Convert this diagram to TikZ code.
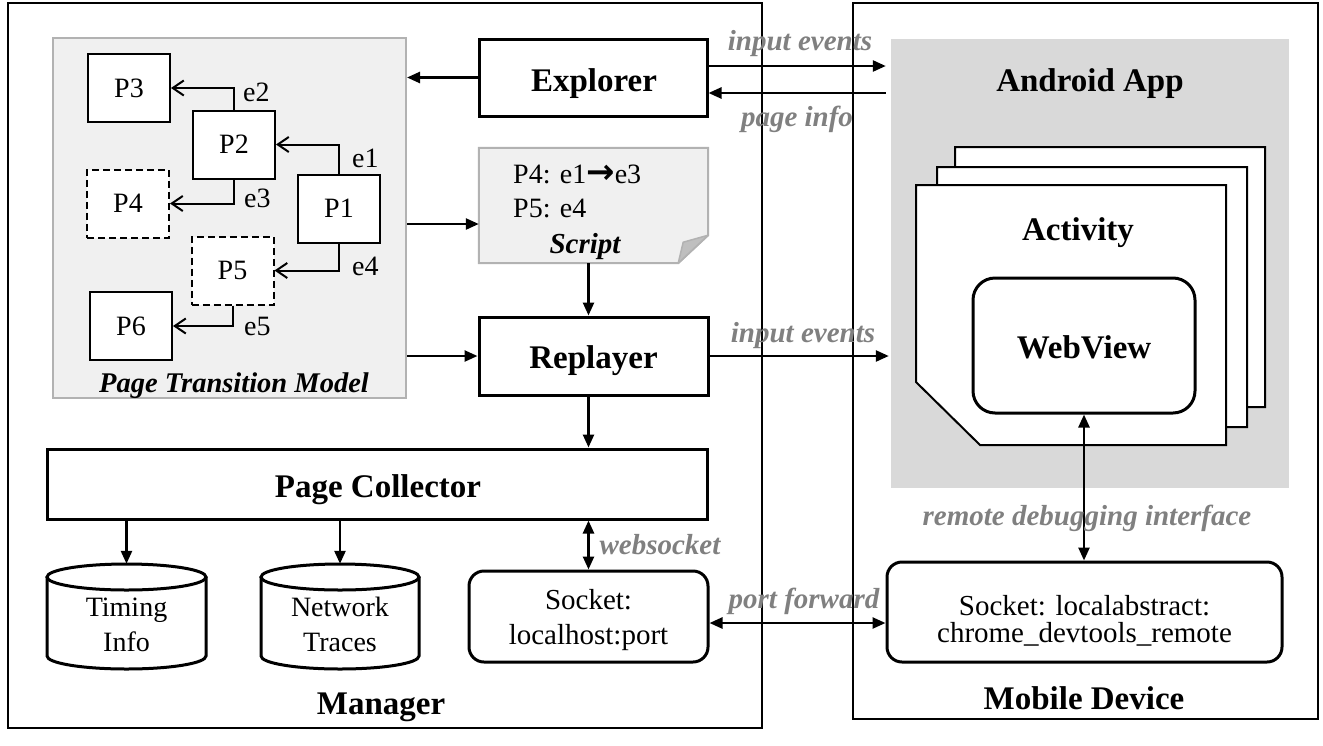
\documentclass[tikz,border=0pt]{standalone}
\usepackage{fontspec}
\setmainfont{Liberation Serif}
\newfontfamily\symfont{DejaVu Sans}
\usetikzlibrary{arrows.meta,calc}
\tikzset{
  arr/.style={line width=2.5pt, -{Triangle[length=13pt,width=11pt]}},
  darr/.style={line width=2.5pt, {Triangle[length=13pt,width=11pt]}-{Triangle[length=13pt,width=11pt]}},
  oarr/.style={line width=2pt, -{Straight Barb[length=11pt,width=15pt,line width=2pt]}},
  pbox/.style={draw, line width=2pt, fill=white, minimum width=82pt, minimum height=68pt, inner sep=0pt, font=\fontsize{28}{32}\selectfont},
  dbox/.style={pbox, dash pattern=on 7pt off 4pt},
  titletext/.style={font=\fontsize{33}{36}\selectfont\bfseries, inner sep=0pt, anchor=base},
  glab/.style={font=\fontsize{29}{32}\selectfont\bfseries\itshape, text=black!50, inner sep=0pt, anchor=base},
  elab/.style={font=\fontsize{28}{32}\selectfont, inner sep=0pt, anchor=base west},
  plain/.style={font=\fontsize{28}{35}\selectfont, inner sep=0pt, align=center},
  tbox/.style={draw, line width=3pt, fill=white, inner sep=0pt},
  rbox/.style={draw, line width=3pt, fill=white, inner sep=0pt, rounded corners=15pt},
  cardshape/.style={draw, line width=2pt, fill=white},
  cyl/.style={draw, line width=3pt, fill=white},
}
\begin{document}
\begin{tikzpicture}[x=1pt,y=-1pt]
\useasboundingbox (0,0) rectangle (1323,745);

% outer frames
\node[draw, line width=2pt, minimum width=754pt, minimum height=725pt, inner sep=0pt] (mgr) at (385,365.5) {};
\node[draw, line width=2pt, minimum width=465pt, minimum height=716pt, inner sep=0pt] (mob) at (1085.5,361) {};
\node[titletext] (mgrT) at (381,714) {Manager};
\node[titletext] (mobT) at (1084,709) {Mobile Device};

% Android App region
\node[fill=black!15, minimum width=398pt, minimum height=449pt, inner sep=0pt] (app) at (1090,263.5) {};
\node[titletext] (appT) at (1090,91) {Android App};

% activity cards
\draw[cardshape] (955,147) -- (1265,147) -- (1265,407) -- (1019,407) -- (955,344) -- cycle;
\draw[cardshape] (937,167) -- (1247,167) -- (1247,427) -- (1001,427) -- (937,364) -- cycle;
\draw[cardshape] (916,185) -- (1226,185) -- (1226,445) -- (980,445) -- (916,382) -- cycle;
\node[titletext] (actT) at (1078,240) {Activity};
\node[rbox, rounded corners=22pt, minimum width=222pt, minimum height=135pt] (wv) at (1084,345.5) {};
\node[titletext] (wvT) at (1084,358) {WebView};

% right socket
\node[rbox, minimum width=395pt, minimum height=100pt] (sockR) at (1084.5,612) {};
\node[font=\fontsize{29}{27}\selectfont, inner sep=0pt, align=center] (sockRT) at (1084.5,621) {Socket: localabstract:\\chrome\_devtools\_remote};

% page transition model
\node[draw=black!30, fill=black!6, line width=2pt, minimum width=353pt, minimum height=360pt, inner sep=0pt] (ptm) at (229.5,218) {};
\node[font=\fontsize{28.5}{30}\selectfont\bfseries\itshape, inner sep=0pt, anchor=base] (ptmT) at (234,392) {Page Transition Model};
\node[pbox] (P3) at (129,88) {P3};
\node[pbox] (P2) at (234,144.5) {P2};
\node[dbox] (P4) at (128,203.5) {P4};
\node[pbox] (P1) at (339,208.5) {P1};
\node[dbox] (P5) at (232.5,270.5) {P5};
\node[pbox] (P6) at (131,326) {P6};
\draw[oarr] (P2.north) |- (P3.east);
\draw[oarr] (P1.north) |- (P2.east);
\draw[oarr] (P2.south) |- (P4.east);
\draw[oarr] (P1.south) |- (P5.east);
\draw[oarr] (P5.south) |- (P6.east);
\node[elab] (l2) at (243,101) {e2};
\node[elab] (l1) at (352,167) {e1};
\node[elab] (l3) at (244,207) {e3};
\node[elab] (l4) at (352,275) {e4};
\node[elab] (l5) at (244,335) {e5};

% Explorer
\node[tbox, minimum width=228pt, minimum height=77pt] (ex) at (593,77.5) {};
\node[titletext] (exT) at (594,91) {Explorer};

% Script
\node[minimum width=229pt, minimum height=115pt, inner sep=0pt] (script) at (593.5,205.5) {};
\draw[draw=black!30, fill=black!6, line width=2pt] (script.north west) -- (script.north east) -- ($(script.south east)+(0,-28)$) -- ($(script.south east)+(-30,0)$) -- (script.south west) -- cycle;
\draw[draw=black!30, fill=black!25, line width=1.5pt, line join=round] ($(script.south east)+(-30,0)$) -- ($(script.south east)+(-25,-21)$) -- ($(script.south east)+(0,-28)$) -- cycle;
\node[font=\fontsize{28}{32}\selectfont, inner sep=0pt, anchor=base west] (s1) at (513,183) {P4: e1{\symfont\bfseries\fontsize{34}{34}\selectfont →}e3};
\node[font=\fontsize{28}{32}\selectfont, inner sep=0pt, anchor=base west] (s2) at (513,217) {P5: e4};
\node[font=\fontsize{29}{32}\selectfont\bfseries\itshape, inner sep=0pt, anchor=base] (s3) at (585,253) {Script};

% Replayer
\node[tbox, minimum width=229pt, minimum height=78pt] (rep) at (593.5,356) {};
\node[titletext] (repT) at (593.5,368) {Replayer};

% Page collector
\node[tbox, minimum width=660pt, minimum height=70pt] (pc) at (377,484) {};
\node[titletext] (pcT) at (378,497) {Page Collector};

% cylinders
\node[minimum width=159pt, minimum height=105pt, inner sep=0pt] (cylT) at (126.5,616.5) {};
\draw[cyl] (47,577) -- (47,656) arc[start angle=180, end angle=360, x radius=79.5pt, y radius=13pt] -- (206,577);
\draw[cyl] (126.5,577) ellipse[x radius=79.5pt, y radius=13pt];
\node[plain] (cylTt) at (126.5,625) {Timing\\Info};
\node[minimum width=158pt, minimum height=105pt, inner sep=0pt] (cylN) at (340,616.5) {};
\draw[cyl] (261,577) -- (261,656) arc[start angle=180, end angle=360, x radius=79pt, y radius=13pt] -- (419,577);
\draw[cyl] (340,577) ellipse[x radius=79pt, y radius=13pt];
\node[plain] (cylNt) at (340,624) {Network\\Traces};

% left socket
\node[rbox, minimum width=239pt, minimum height=91pt] (sockL) at (588.5,616.5) {};
\node[font=\fontsize{29}{35}\selectfont, inner sep=0pt, align=center] (sockLT) at (588.5,620.5) {Socket:\\localhost:port};

% helper coordinates
\coordinate (yIE) at (0,66);
\coordinate (yPI) at (0,93);
\coordinate (yS) at (0,224);

% connectors
\draw[arr] (ex.west) -- (ex.west -| ptm.east);
\draw[arr, shorten >=5pt] (ex.east |- yIE) -- (app.west |- yIE);
\draw[arr, shorten <=5pt] (app.west |- yPI) -- (ex.east |- yPI);
\draw[arr] (ptm.east |- yS) -- (script.west |- yS);
\draw[arr] (script.south -| sockL.north) -- (rep.north -| sockL.north);
\draw[arr] (ptm.east |- rep.west) -- (rep.west);
\draw[arr, shorten >=2pt] (rep.east) -- (rep.east -| app.west);
\draw[arr] (rep.south -| sockL.north) -- (pc.north -| sockL.north);
\draw[arr] (pc.south -| cylT.north) -- (cylT.north);
\draw[arr] (pc.south -| cylN.north) -- (cylN.north);
\draw[darr] (pc.south -| sockL.north) -- (sockL.north);
\draw[darr] ([yshift=-6.5pt]sockL.east) -- ([yshift=-6.5pt]sockL.east -| sockR.west);
\draw[darr] (wv.south) -- (wv.south |- sockR.north);

% connector labels
\node[glab] (gIE1) at (800,50) {input events};
\node[glab] (gPI) at (797,126) {page info};
\node[glab] (gIE2) at (803,342) {input events};
\node[glab] (gWS) at (660,554) {websocket};
\node[glab] (gPF) at (804,608) {port forward};
\node[glab] (gRD) at (1087,525) {remote debugging interface};
\end{tikzpicture}
\end{document}
